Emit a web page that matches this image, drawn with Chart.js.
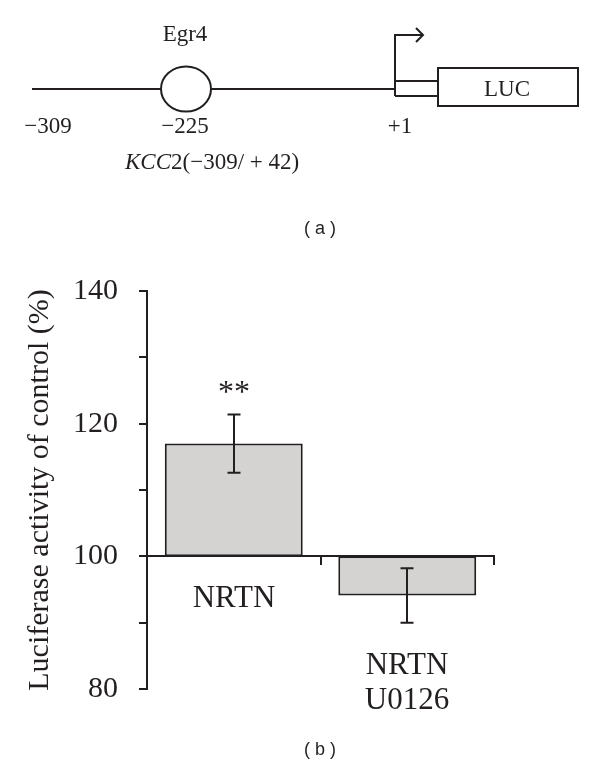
<!DOCTYPE html>
<html>
<head>
<meta charset="utf-8">
<script src="https://cdn.jsdelivr.net/npm/chart.js@4.4.1/dist/chart.umd.min.js"></script>
<style>
    html, body { margin: 0; padding: 0; background: #fff; }
    #page { position: relative; width: 600px; height: 765px; overflow: hidden; }
    #chartBox { position: absolute; left: 0; top: 0; width: 600px; height: 765px; }
    #schema { position: absolute; left: 0; top: 0; }
    .cap { position: absolute; font-family: "Liberation Sans", Arial, sans-serif; font-size: 18px;
           color: #231f20; transform: translateX(-50%); white-space: pre; }
</style>
</head>
<body>
<div id="page">
    <div id="chartBox"><canvas id="chart"></canvas></div>

    <svg id="schema" width="600" height="200" xmlns="http://www.w3.org/2000/svg">
        <g stroke="#231f20" stroke-width="2" fill="none">
            <line x1="32" y1="89" x2="161" y2="89"/>
            <ellipse cx="186" cy="89" rx="25" ry="22.5"/>
            <line x1="211" y1="89" x2="395" y2="89"/>
            <polyline points="395,96 395,35 423,35"/>
            <polyline points="416,28 423,35 416,42"/>
            <line x1="395" y1="81" x2="438" y2="81"/>
            <line x1="395" y1="96" x2="438" y2="96"/>
            <rect x="438" y="68" width="140" height="38"/>
        </g>
        <g font-family="Liberation Serif, Times New Roman, serif" font-size="23" fill="#231f20" text-anchor="middle">
            <text x="185" y="41">Egr4</text>
            <text x="507" y="96">LUC</text>
            <text x="48" y="133">−309</text>
            <text x="185" y="133">−225</text>
            <text x="400" y="133">+1</text>
            <text x="125" y="169" text-anchor="start"><tspan font-style="italic">KCC</tspan>2(−309/ + 42)</text>
        </g>
    </svg>

    <div class="cap" style="left:320px; top:218px;">( a )</div>
    <div class="cap" style="left:320px; top:739px;">( b )</div>
</div>

<script>
const categories = [['NRTN'], ['NRTN', 'U0126']];
const means = [117.0, 94.1];
const errors = [4.4, 4.1];
const marks = ['**', ''];
const baseline = 100;
const labelledTicks = [80, 100, 120, 140];

const ink = '#231f20';
const serif = '"Liberation Serif", "Times New Roman", serif';

// error bars, significance marks and the category names
const annotations = {
    id: 'annotations',
    afterDatasetsDraw(chart) {
        const ctx = chart.ctx;
        const y = chart.scales.y;
        const meta = chart.getDatasetMeta(0);
        const axisY = y.getPixelForValue(baseline);

        ctx.save();
        ctx.strokeStyle = ink;
        ctx.fillStyle = ink;
        ctx.lineWidth = 2;

        meta.data.forEach((bar, i) => {
            const x = Math.round(bar.x);
            const top = y.getPixelForValue(means[i] + errors[i]);
            const bottom = y.getPixelForValue(means[i] - errors[i]);

            ctx.beginPath();
            ctx.moveTo(x, top);
            ctx.lineTo(x, bottom);
            ctx.moveTo(x - 6.5, top);
            ctx.lineTo(x + 6.5, top);
            ctx.moveTo(x - 6.5, bottom);
            ctx.lineTo(x + 6.5, bottom);
            ctx.stroke();

            ctx.textAlign = 'center';
            if (marks[i]) {
                ctx.font = '32px ' + serif;
                ctx.textBaseline = 'alphabetic';
                ctx.fillText(marks[i], x, top - 12);
            }

            ctx.font = '31px ' + serif;
            ctx.textBaseline = 'middle';
            const start = Math.max(axisY, bottom) + 43;
            categories[i].forEach((line, k) => {
                ctx.fillText(line, x, start + k * 35);
            });
        });
        ctx.restore();
    }
};

new Chart(document.getElementById('chart'), {
    type: 'bar',
    plugins: [annotations],
    data: {
        labels: categories,
        datasets: [{
            data: means.map(m => [baseline, m]),
            backgroundColor: '#d4d3d1',
            borderColor: ink,
            borderWidth: 2,
            borderSkipped: false,
            barPercentage: 0.795,
            categoryPercentage: 1
        }]
    },
    options: {
        responsive: true,
        maintainAspectRatio: false,
        animation: false,
        events: [],
        layout: {
            padding: { top: 291, bottom: 76, left: 0, right: 106 }
        },
        plugins: {
            legend: { display: false },
            tooltip: { enabled: false }
        },
        scales: {
            x: {
                position: { y: baseline },
                ticks: { display: false },
                grid: {
                    offset: true,
                    drawOnChartArea: false,
                    drawTicks: true,
                    tickLength: 8,
                    color: ink,
                    lineWidth: 2
                },
                border: { display: true, color: ink, width: 2 }
            },
            y: {
                min: 80,
                max: 140,
                afterFit(scale) {
                    scale.width = 147;
                },
                ticks: {
                    stepSize: 10,
                    autoSkip: false,
                    padding: 21,
                    color: ink,
                    font: { family: serif, size: 30 },
                    callback: v => labelledTicks.includes(v) ? String(v) : ''
                },
                grid: {
                    drawOnChartArea: false,
                    drawTicks: true,
                    tickLength: 8,
                    color: ink,
                    lineWidth: 2
                },
                border: { display: true, color: ink, width: 2 },
                title: {
                    display: true,
                    text: 'Luciferase activity of control (%)',
                    color: ink,
                    font: { family: serif, size: 30 },
                    padding: { top: 22, bottom: 0 }
                }
            }
        }
    }
});
</script>
</body>
</html>
